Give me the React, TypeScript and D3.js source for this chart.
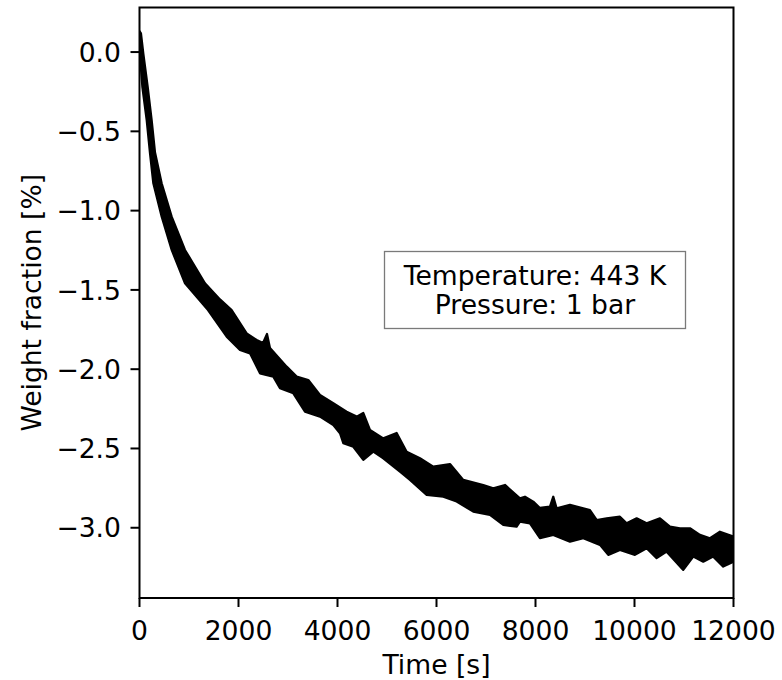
import React from "react";
import * as d3 from "d3";

// Upper edge of the noisy trace (time [s], weight fraction [%])
const upperTime = [0, 30, 77, 166, 246, 313, 448, 650, 919, 1323, 1626, 1862, 2165, 2367, 2495, 2576, 2636, 2973, 3175, 3410, 3646, 3915, 4185, 4387, 4521, 4656, 4925, 5195, 5397, 5666, 5935, 6272, 6541, 6945, 7147, 7383, 7686, 7787, 7955, 8090, 8292, 8359, 8427, 8696, 8965, 9100, 9235, 9437, 9706, 9841, 10043, 10245, 10514, 10716, 10918, 11120, 11322, 11524, 11726, 12000];
const upperValue = [0.132, 0.118, -0.008, -0.219, -0.429, -0.631, -0.828, -1.038, -1.248, -1.458, -1.56, -1.627, -1.774, -1.816, -1.835, -1.778, -1.866, -1.984, -2.047, -2.068, -2.163, -2.215, -2.268, -2.299, -2.276, -2.383, -2.436, -2.402, -2.52, -2.562, -2.615, -2.598, -2.698, -2.73, -2.751, -2.73, -2.814, -2.804, -2.835, -2.875, -2.867, -2.804, -2.877, -2.856, -2.877, -2.888, -2.951, -2.94, -2.93, -2.972, -2.94, -2.972, -2.94, -2.993, -3.003, -3.003, -3.045, -3.066, -3.025, -3.056];

// Lower edge of the noisy trace
const lowerTime = [0, 6, 57, 145, 212, 279, 448, 650, 919, 1384, 1761, 2030, 2232, 2434, 2703, 2838, 3107, 3343, 3646, 3915, 4050, 4117, 4319, 4521, 4723, 4925, 5262, 5464, 5801, 6137, 6407, 6743, 7080, 7349, 7619, 7686, 7888, 8090, 8359, 8696, 8965, 9302, 9470, 9706, 10009, 10245, 10447, 10649, 10985, 11187, 11389, 11591, 11793, 12000];
const lowerValue = [0.044, -0.008, -0.219, -0.429, -0.639, -0.828, -1.038, -1.248, -1.458, -1.627, -1.795, -1.879, -1.9, -2.026, -2.047, -2.12, -2.152, -2.268, -2.299, -2.352, -2.404, -2.467, -2.489, -2.572, -2.52, -2.562, -2.646, -2.698, -2.793, -2.804, -2.835, -2.898, -2.919, -2.982, -2.993, -2.961, -2.972, -3.066, -3.045, -3.088, -3.066, -3.108, -3.171, -3.14, -3.171, -3.129, -3.192, -3.151, -3.266, -3.182, -3.214, -3.182, -3.245, -3.214];

const xTicks = [0, 2000, 4000, 6000, 8000, 10000, 12000];
const yTicks = [0.0, -0.5, -1.0, -1.5, -2.0, -2.5, -3.0];
const annotationLines = ["Temperature: 443 K", "Pressure: 1 bar"];

const W = 782;
const H = 680;
const left = 139.5;
const right = 733.5;
const top = 7.5;
const bottom = 598;
const FONT = "'DejaVu Sans', sans-serif";
const FS = 26.6;

export default function App() {
  const x = d3.scaleLinear().domain([0, 12000]).range([left, right]);
  const y = d3.scaleLinear().domain([-3.443, 0.281]).range([bottom, top]);

  const upper = upperTime.map((t, i) => [t, upperValue[i]] as [number, number]);
  const lower = lowerTime.map((t, i) => [t, lowerValue[i]] as [number, number]);
  const poly = upper.concat(lower.slice().reverse());
  const line = d3
    .line<[number, number]>()
    .x((d) => x(d[0]))
    .y((d) => y(d[1]));
  const pathD = (line(poly) || "") + "Z";

  const fmt = (v: number) => {
    const s = Math.abs(v).toFixed(1);
    return v < 0 ? "\u2212" + s : s;
  };

  return (
    <svg
      width={W}
      height={H}
      style={{ position: "absolute", left: 0, top: 0, background: "#fff" }}
      fontFamily={FONT}
    >
      <rect x={0} y={0} width={W} height={H} fill="#fff" />
      <defs>
        <clipPath id="plotclip">
          <rect x={left} y={top} width={right - left} height={bottom - top} />
        </clipPath>
      </defs>
      <g clipPath="url(#plotclip)">
        <path
          d={pathD}
          fill="#000"
          stroke="#000"
          strokeWidth={2.2}
          strokeLinejoin="round"
        />
      </g>
      {/* spines */}
      <rect
        x={left}
        y={top}
        width={right - left}
        height={bottom - top}
        fill="none"
        stroke="#000"
        strokeWidth={2}
      />
      {/* x ticks */}
      {xTicks.map((t) => (
        <g key={"x" + t}>
          <line x1={x(t)} x2={x(t)} y1={bottom} y2={bottom + 9} stroke="#000" strokeWidth={2} />
          <text x={x(t)} y={639.5} fontSize={FS} textAnchor="middle" fill="#000">
            {String(t)}
          </text>
        </g>
      ))}
      {/* y ticks */}
      {yTicks.map((v) => (
        <g key={"y" + v}>
          <line x1={left - 9} x2={left} y1={y(v)} y2={y(v)} stroke="#000" strokeWidth={2} />
          <text x={121} y={y(v) + 9.6} fontSize={FS} textAnchor="end" fill="#000">
            {fmt(v)}
          </text>
        </g>
      ))}
      <text x={(left + right) / 2} y={674} fontSize={FS} textAnchor="middle" fill="#000">
        Time [s]
      </text>
      <text
        transform={`translate(41, ${(top + bottom) / 2}) rotate(-90)`}
        fontSize={FS}
        textAnchor="middle"
        fill="#000"
      >
        Weight fraction [%]
      </text>
      {/* annotation box */}
      <rect x={384.5} y={251.5} width={301} height={77} fill="#fff" stroke="#7a7a7a" strokeWidth={1.3} />
      {annotationLines.map((s, i) => (
        <text key={s} x={535} y={284.5 + i * 29} fontSize={FS} textAnchor="middle" fill="#000">
          {s}
        </text>
      ))}
    </svg>
  );
}
